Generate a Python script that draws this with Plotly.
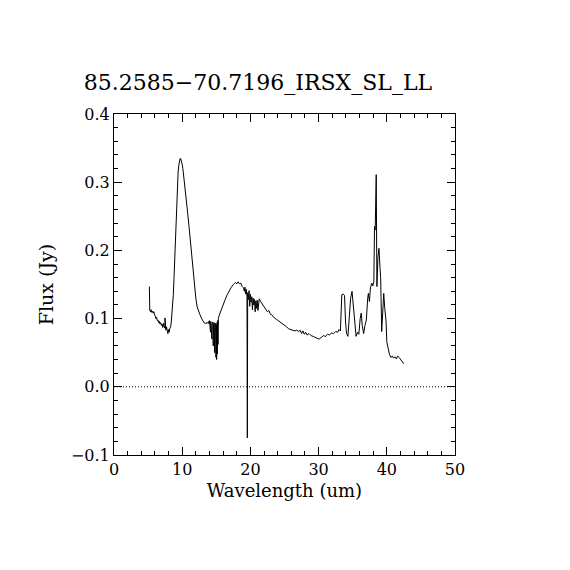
import plotly.graph_objects as go

# --- Spectrum (wavelength in um, flux in Jy) ---
wave = [
    5.18, 5.20, 5.25, 5.35, 5.45, 5.55, 5.65, 5.75, 5.85, 5.95,
    6.05, 6.15, 6.25, 6.35, 6.45, 6.55, 6.65, 6.75, 6.85, 6.95,
    7.05, 7.15, 7.25, 7.35, 7.45, 7.48, 7.52, 7.60, 7.70, 7.80,
    7.90, 8.00, 8.10, 8.20, 8.30, 8.40, 8.50, 8.60, 8.70, 8.80,
    8.90, 9.00, 9.10, 9.20, 9.30, 9.40, 9.50, 9.60, 9.70, 9.80,
    9.90, 10.00, 10.10, 10.20, 10.40, 10.60, 10.80, 11.00, 11.20, 11.40,
    11.60, 11.80, 12.00, 12.20, 12.40, 12.50, 12.60, 12.80, 13.00, 13.20,
    13.40, 13.60, 13.80, 13.90, 13.95, 14.00, 14.05, 14.10, 14.15, 14.20,
    14.25, 14.30, 14.35, 14.40, 14.45, 14.50, 14.55, 14.60, 14.65, 14.70,
    14.75, 14.80, 14.85, 14.90, 14.95, 15.00, 15.05, 15.10, 15.15, 15.20,
    15.25, 15.30, 15.40, 15.60, 15.80, 16.00, 16.30, 16.60, 16.90, 17.20,
    17.50, 17.80, 18.00, 18.20, 18.40, 18.60, 18.80, 19.00, 19.10, 19.20,
    19.30, 19.40, 19.50, 19.55, 19.60, 19.70, 19.80, 19.90, 20.00, 20.10,
    20.20, 20.30, 20.40, 20.50, 20.60, 20.70, 20.80, 20.90, 21.00, 21.10,
    21.20, 21.30, 21.50, 21.70, 22.00, 22.30, 22.50, 22.70, 22.90, 23.20,
    23.50, 23.80, 24.10, 24.40, 24.70, 25.00, 25.30, 25.60, 25.90, 26.20,
    26.50, 26.80, 27.10, 27.30, 27.50, 27.70, 27.90, 28.10, 28.30, 28.60,
    28.90, 29.20, 29.50, 29.80, 30.10, 30.40, 30.70, 31.00, 31.30, 31.60,
    31.90, 32.20, 32.50, 32.80, 33.00, 33.20, 33.40, 33.60, 33.80, 33.95,
    34.10, 34.30, 34.50, 34.70, 34.90, 35.10, 35.30, 35.50, 35.70, 35.90,
    36.10, 36.25, 36.40, 36.60, 36.80, 37.00, 37.20, 37.30, 37.45, 37.60,
    37.80, 37.95, 38.10, 38.20, 38.30, 38.45, 38.55, 38.70, 38.85, 39.00,
    39.10, 39.25, 39.40, 39.55, 39.70, 39.90, 40.00, 40.20, 40.40, 40.60,
    40.80, 41.00, 41.20, 41.40, 41.60, 41.80, 42.00, 42.20, 42.40, 42.55,
]
flux = [
    0.147, 0.118, 0.112, 0.110, 0.113, 0.109, 0.111, 0.108, 0.110, 0.105,
    0.104, 0.100, 0.102, 0.097, 0.098, 0.094, 0.096, 0.092, 0.094, 0.090,
    0.092, 0.087, 0.093, 0.088, 0.086, 0.101, 0.085, 0.083, 0.088, 0.080,
    0.078, 0.084, 0.080, 0.086, 0.088, 0.095, 0.105, 0.115, 0.135, 0.160,
    0.190, 0.225, 0.255, 0.280, 0.300, 0.315, 0.325, 0.332, 0.335, 0.334,
    0.331, 0.326, 0.320, 0.312, 0.295, 0.275, 0.255, 0.235, 0.213, 0.190,
    0.168, 0.147, 0.130, 0.117, 0.110, 0.108, 0.106, 0.101, 0.097, 0.094,
    0.093, 0.093, 0.094, 0.096, 0.092, 0.097, 0.086, 0.095, 0.080, 0.096,
    0.075, 0.094, 0.070, 0.093, 0.066, 0.095, 0.060, 0.092, 0.055, 0.094,
    0.050, 0.091, 0.046, 0.093, 0.043, 0.090, 0.040, 0.094, 0.048, 0.097,
    0.062, 0.100, 0.104, 0.110, 0.116, 0.121, 0.128, 0.135, 0.141, 0.146,
    0.150, 0.153, 0.151, 0.154, 0.151, 0.152, 0.147, 0.145, 0.140, 0.146,
    0.136, 0.143, 0.132, -0.075, 0.138, 0.128, 0.141, 0.118, 0.136, 0.124,
    0.132, 0.113, 0.130, 0.120, 0.128, 0.110, 0.126, 0.115, 0.127, 0.112,
    0.124, 0.129, 0.125, 0.122, 0.118, 0.114, 0.110, 0.112, 0.107, 0.105,
    0.101, 0.099, 0.097, 0.095, 0.093, 0.090, 0.088, 0.085, 0.084, 0.083,
    0.082, 0.083, 0.081, 0.083, 0.078, 0.082, 0.077, 0.080, 0.076, 0.078,
    0.075, 0.074, 0.072, 0.071, 0.070, 0.072, 0.075, 0.074, 0.077, 0.076,
    0.079, 0.078, 0.081, 0.080, 0.084, 0.082, 0.135, 0.136, 0.134, 0.095,
    0.078, 0.074, 0.100, 0.130, 0.140, 0.120, 0.090, 0.074, 0.080, 0.077,
    0.100, 0.108, 0.090, 0.078, 0.090, 0.098, 0.130, 0.137, 0.125, 0.145,
    0.152, 0.148, 0.154, 0.235, 0.230, 0.311, 0.147, 0.190, 0.203, 0.175,
    0.160, 0.081, 0.115, 0.137, 0.115, 0.095, 0.066, 0.054, 0.047, 0.043,
    0.045, 0.042, 0.044, 0.041, 0.045, 0.043, 0.040, 0.038, 0.035, 0.034,
]

title = "85.2585\u221270.7196_IRSX_SL_LL"
x_range = [0, 50]
y_range = [-0.1, 0.4]

font_family = "DejaVu Serif"

fig = go.Figure()
fig.add_trace(go.Scatter(x=wave, y=flux, mode="lines",
                         line=dict(color="black", width=1),
                         showlegend=False, hoverinfo="skip"))

# dotted zero line across the plot
fig.add_shape(type="line", xref="paper", x0=0, x1=1, yref="y", y0=0, y1=0,
              line=dict(color="black", width=1, dash="1px,2px"))

axis_common = dict(
    showgrid=False, zeroline=False,
    showline=True, linecolor="black", linewidth=1, mirror="ticks",
    ticks="inside", ticklen=8, tickcolor="black", tickwidth=1,
    tickfont=dict(family=font_family, size=16, color="black"),
)

fig.update_xaxes(range=x_range, dtick=10, tick0=0,
                 minor=dict(ticks="inside", ticklen=4, dtick=2,
                            tickcolor="black", showgrid=False),
                 title=dict(text="Wavelength (um)", standoff=6,
                            font=dict(family=font_family, size=18, color="black")),
                 **axis_common)
fig.update_yaxes(range=y_range, dtick=0.1, tick0=0, tickformat=".1f",
                 minor=dict(ticks="inside", ticklen=4, dtick=0.02,
                            tickcolor="black", showgrid=False),
                 title=dict(text="Flux (Jy)", standoff=12,
                            font=dict(family=font_family, size=19, color="black")),
                 **axis_common)

fig.update_layout(
    width=570, height=570,
    margin=dict(l=106, r=123, t=106, b=123, autoexpand=False),
    plot_bgcolor="white", paper_bgcolor="white",
    title=dict(text=title, x=0.4386, xanchor="center", y=0.870, yanchor="middle",
               font=dict(family=font_family, size=22, color="black")),
)

fig.write_html("out.html")
